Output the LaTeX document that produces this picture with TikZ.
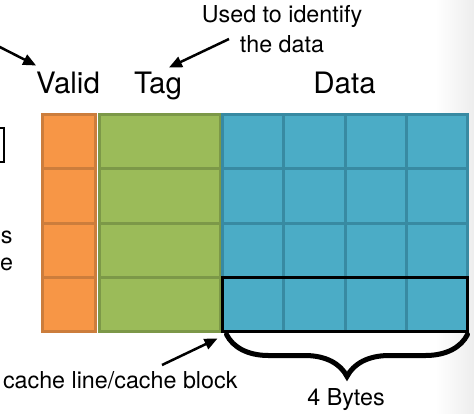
\documentclass[tikz,border=0pt]{standalone}
\usepackage{fontspec}
\setmainfont{TeX Gyre Heros}
\usetikzlibrary{arrows.meta,decorations.pathreplacing,fit}
\definecolor{vfill}{RGB}{247,150,70}
\definecolor{vline}{RGB}{204,125,60}
\definecolor{tfill}{RGB}{155,187,89}
\definecolor{tline}{RGB}{124,152,72}
\definecolor{dfill}{RGB}{75,172,198}
\definecolor{dline}{RGB}{56,138,162}
\begin{document}
\begin{tikzpicture}[x=1pt,y=-1pt,
  cell/.style={rectangle, inner sep=0pt, outer sep=0pt, anchor=north west, line width=3pt, minimum height=54.25pt},
  vcell/.style={cell, draw=vline, fill=vfill, minimum width=53pt},
  tcell/.style={cell, draw=tline, fill=tfill, minimum width=121pt},
  dcell/.style={cell, draw=dline, fill=dfill, minimum width=61.25pt},
  big/.style={font=\fontsize{29.5}{34}\selectfont, inner sep=0pt, outer sep=0pt, anchor=base},
  small/.style={font=\fontsize{23.3}{30}\selectfont, inner sep=0pt, outer sep=0pt, anchor=base},
  arr/.style={-{Triangle[length=13pt,width=11pt]}, line width=2.5pt}]
\useasboundingbox (0,0) rectangle (474,413);
\clip (0,0) rectangle (474,413);
\shade[left color=white, right color=black!7] (435,0) rectangle (474,413);
% grid
\foreach \r in {1,...,4} {
  \node[vcell] (v\r) at (42.5, {114.5+(\r-1)*54.25}) {};
  \node[tcell] (t\r) at (99.5, {114.5+(\r-1)*54.25}) {};
  \foreach \c in {1,...,4}
    \node[dcell] (d\r\c) at ({222.5+(\c-1)*61.25}, {114.5+(\r-1)*54.25}) {};
}
\node[fit=(d41)(d44), inner sep=0pt, outer sep=0pt, draw=black, line width=3pt] (line) {};
% labels
\node[big] (valid) at (68,93) {Valid};
\node[big] (tag) at (158,93) {Tag};
\node[big] (data) at (344.5,93) {Data};
\node[small, align=center] (tagnote) at (282,52) {Used to identify\\the data};
\node[small, anchor=base west] (clnote) at (3,388) {cache line/cache block};
\node[small] (bytes) at (346,405) {4 Bytes};
\node[small, anchor=base east] (frag1) at (12.5,243) {s};
\node[small, anchor=base east] (frag2) at (13,270) {e};
\node[draw, line width=2pt, minimum width=30pt, minimum height=34pt, inner sep=0pt, anchor=east] (box) at (5,145) {};
% connectors
\coordinate (vsrc) at (-10,42);
\coordinate (tagsrc) at (229,39);
\coordinate (clsrc) at (162,365);
\draw[arr] (vsrc) -- ([yshift=6pt]valid.north west);
\draw[arr] (tagsrc) -- ([xshift=11pt,yshift=4pt]tag.north);
\draw[arr] (clsrc) -- ([xshift=-5pt,yshift=-7pt]line.south west);
\draw[decorate, decoration={brace, mirror, amplitude=42pt}, line width=5pt, line cap=round]
  ([xshift=4pt,yshift=-3pt]line.south west) -- ([yshift=-3pt]line.south east);
\end{tikzpicture}
\end{document}
